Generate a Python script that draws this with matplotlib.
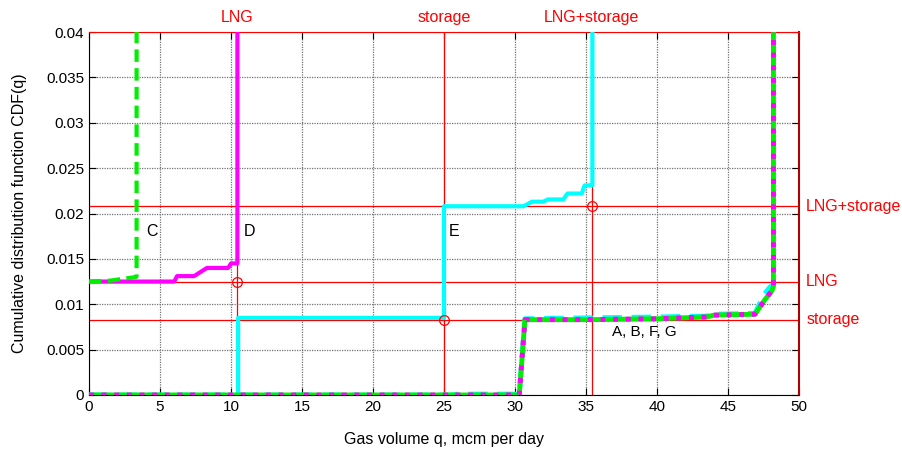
# CDF of gas volume with LNG / storage reference lines

import numpy as np
import matplotlib
matplotlib.use("Agg")
import matplotlib.pyplot as plt

plt.rcParams['font.family'] = ['Liberation Sans', 'DejaVu Sans']
plt.rcParams['font.size'] = 11

# Curve C (green dashed)
c_q = [0, 1.5, 3.3, 3.35, 3.35]
c_p = [0.0125, 0.0126, 0.0130, 0.0131, 0.04]

# Curve D (magenta solid)
d_q = [0, 6.0, 6.2, 7.4, 8.3, 9.8, 10.0, 10.45, 10.45]
d_p = [0.0125, 0.0125, 0.0131, 0.0131, 0.0140, 0.0140, 0.0145, 0.0145, 0.04]

# Curve E (cyan solid)
e_q = [0, 10.5, 10.5, 25.0, 25.0, 30.6, 31.2, 32.0, 32.3, 33.4, 33.7, 34.7, 34.9, 35.4, 35.45, 35.45]
e_p = [0, 0, 0.0085, 0.0085, 0.0208, 0.0208, 0.0213, 0.0213, 0.02155, 0.02155, 0.0222, 0.0222, 0.0231, 0.0231, 0.0231, 0.04]

# Curves A, B, F, G (nearly identical)
abfg_q = [0, 30.3, 30.7, 35.0, 40.0, 43.5, 44.0, 46.9, 47.6, 48.1, 48.2, 48.2]
abfg_p = [0, 0, 0.0083, 0.0083, 0.0084, 0.0086, 0.0088, 0.0089, 0.0105, 0.0115, 0.0120, 0.04]
f_q = [0, 25.5, 26.0, 29.9, 30.3, 30.7, 35.0, 40.0, 43.5, 44.0, 46.9, 47.5, 48.0, 48.2, 48.2]
f_p = [0, 0, 0.0001, 0.0001, 0.0001, 0.0084, 0.0085, 0.0086, 0.0087, 0.0089, 0.0090, 0.0110, 0.0120, 0.0121, 0.04]

# reference levels
ref_names = ['LNG', 'storage', 'LNG+storage']
ref_q = [10.4, 25.0, 35.4]
ref_p = [0.0125, 0.0083, 0.0208]

fig = plt.figure(figsize=(9.02, 4.51), dpi=100)
ax = fig.add_axes([0.0987, 0.1242, 0.7871, 0.8048])

ax.grid(True, color='0.45', linestyle=(0, (1, 1)), linewidth=0.9)
ax.set_axisbelow(True)

for q, p in zip(ref_q, ref_p):
    ax.axvline(q, color='red', linewidth=0.9, zorder=2)
    ax.axhline(p, color='red', linewidth=0.9, zorder=2)
    ax.plot(q, p, 'o', mfc='none', mec='red', ms=7, mew=0.9, zorder=6)

ax.plot(f_q, f_p, color='cyan', linewidth=3.5, dashes=(4, 2), zorder=3)
ax.plot(abfg_q, abfg_p, color='#00ee00', linewidth=3.5, zorder=4)
ax.plot(abfg_q, abfg_p, color='magenta', linewidth=3.5, dashes=(1, 1.6), zorder=5)

ax.plot(e_q, e_p, color='cyan', linewidth=3, zorder=3)
ax.plot(d_q, d_p, color='magenta', linewidth=3, zorder=4)
ax.plot(c_q, c_p, color='#00ee00', linewidth=3, dashes=(3, 1.5), zorder=4)

ax.text(4.0, 0.0175, 'C', fontsize=11.5)
ax.text(10.9, 0.0175, 'D', fontsize=11.5)
ax.text(25.3, 0.0175, 'E', fontsize=11.5)
ax.text(36.8, 0.0065, 'A, B, F, G', fontsize=11)

# red labels on top and right
for name, q in zip(ref_names, ref_q):
    ax.text(q, 0.0411, name, color='red', ha='center', va='baseline', fontsize=11.5)
for name, p in zip(ref_names, ref_p):
    ax.text(50.5, p, name, color='red', ha='left', va='center', fontsize=11.5)

ax.set_xlim(0, 50)
ax.set_ylim(0, 0.04)
ax.set_xticks(np.arange(0, 51, 5))
ax.set_yticks(np.arange(0, 0.0401, 0.005))
ax.set_yticklabels(['0', '0.005', '0.01', '0.015', '0.02', '0.025', '0.03', '0.035', '0.04'])
ax.tick_params(direction='in', top=True, right=True, length=5, labelsize=11)

ax.spines['top'].set_color('red')
ax.spines['right'].set_color('#b00000')
ax.spines['right'].set_linewidth(1.5)

ax.set_xlabel('Gas volume q, mcm per day', fontsize=11.5, labelpad=13)
ax.set_ylabel('Cumulative distribution function CDF(q)', fontsize=11.5, labelpad=14)

fig.savefig('out.png', dpi=100)
